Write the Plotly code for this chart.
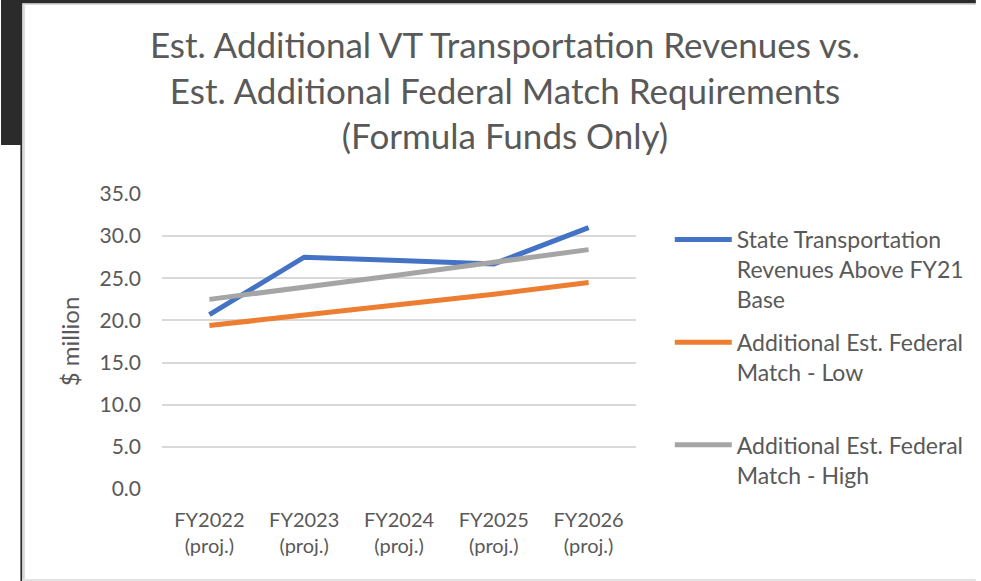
import plotly.graph_objects as go

categories = ["FY2022<br>(proj.)", "FY2023<br>(proj.)", "FY2024<br>(proj.)", "FY2025<br>(proj.)", "FY2026<br>(proj.)"]
state_revenues = [20.7, 27.5, 27.1, 26.7, 31.0]
federal_low = [19.4, 20.6, 21.9, 23.1, 24.5]
federal_high = [22.5, 23.9, 25.4, 26.9, 28.4]
y_ticks = [0, 5, 10, 15, 20, 25, 30, 35]
y_tick_labels = [f"{v:.1f}" for v in y_ticks]

W, H = 981, 581
L, R, T, B = 162, 639, 194, 489
FONT = "Lato"
TXT = "#595959"


def px_x(x):
    return (x - L) / (R - L)


def px_y(y):
    return (B - y) / (B - T)


fig = go.Figure()
fig.add_trace(go.Scatter(x=categories, y=state_revenues, mode="lines",
                         name="State Transportation<br>Revenues Above FY21<br>Base",
                         line=dict(color="#4472C4", width=5), legendgroup="a"))
fig.add_trace(go.Scatter(x=categories, y=federal_low, mode="lines",
                         name="Additional Est. Federal<br>Match - Low<br>&nbsp;",
                         line=dict(color="#ED7D31", width=5), legendgroup="b"))
fig.add_trace(go.Scatter(x=categories, y=federal_high, mode="lines",
                         name="Additional Est. Federal<br>Match - High",
                         line=dict(color="#A5A5A5", width=5), legendgroup="c"))

shapes = []
dark = "#2b2b2b"
# top dark band
shapes.append(dict(type="rect", xref="paper", yref="paper", x0=px_x(0), x1=px_x(W),
                   y0=px_y(0), y1=px_y(3.5), fillcolor=dark, line=dict(width=0), layer="above"))
shapes.append(dict(type="rect", xref="paper", yref="paper", x0=px_x(21), x1=px_x(W),
                   y0=px_y(3.5), y1=px_y(5), fillcolor="#d9d9d9", line=dict(width=0), layer="above"))
# left dark block
shapes.append(dict(type="rect", xref="paper", yref="paper", x0=px_x(0), x1=px_x(21.5),
                   y0=px_y(0), y1=px_y(145), fillcolor=dark, line=dict(width=0), layer="above"))
shapes.append(dict(type="rect", xref="paper", yref="paper", x0=px_x(19.5), x1=px_x(21.5),
                   y0=px_y(145), y1=px_y(H), fillcolor=dark, line=dict(width=0), layer="above"))
shapes.append(dict(type="rect", xref="paper", yref="paper", x0=px_x(21.5), x1=px_x(24),
                   y0=px_y(3.5), y1=px_y(H), fillcolor="#d9d9d9", line=dict(width=0), layer="above"))
# bottom light line
shapes.append(dict(type="rect", xref="paper", yref="paper", x0=px_x(21.5), x1=px_x(W),
                   y0=px_y(579), y1=px_y(H), fillcolor="#e3e3e3", line=dict(width=0), layer="above"))

fig.update_layout(
    width=W, height=H,
    margin=dict(l=L, r=W - R, t=T, b=H - B, pad=0),
    paper_bgcolor="white", plot_bgcolor="white",
    font=dict(family=FONT, color=TXT),
    title=dict(text="Est. Additional VT Transportation Revenues vs.<br>Est. Additional Federal Match Requirements<br>(Formula Funds Only)",
               x=505 / W, xanchor="center", y=1 - 58 / H, yanchor="middle", yref="container",
               font=dict(family=FONT, size=35, color=TXT)),
    xaxis=dict(range=[-0.5, 4.5], showgrid=False, showline=False, zeroline=False,
               tickfont=dict(size=20, color=TXT), ticks="", ticklabelstandoff=17),
    yaxis=dict(range=[0, 35], tickvals=y_ticks, ticktext=y_tick_labels, showgrid=True,
               gridcolor="#d9d9d9", gridwidth=1.5, zeroline=False, showline=False, ticks="",
               tickfont=dict(size=21, color=TXT), ticklabelstandoff=20,
               title=dict(text="$ million", font=dict(size=24, color=TXT), standoff=13)),
    legend=dict(x=px_x(673), y=px_y(218), xanchor="left", yanchor="top",
                font=dict(size=23, color=TXT), valign="top", itemwidth=57,
                tracegroupgap=10, bgcolor="rgba(0,0,0,0)"),
    shapes=shapes,
)

fig.write_html("out.html", config={"displayModeBar": False},
               post_script="document.body.style.margin='0';document.body.style.overflow='hidden';")
